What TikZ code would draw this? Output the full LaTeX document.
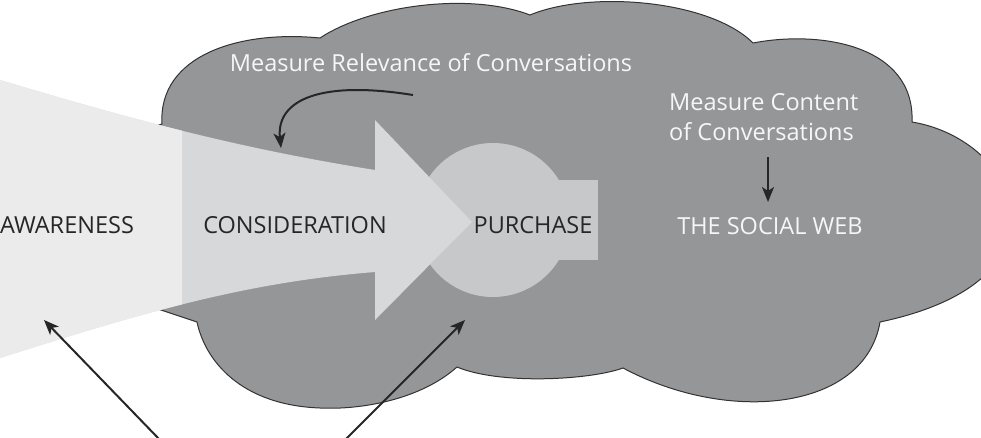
\documentclass[tikz,border=0pt]{standalone}
\usepackage{fontspec}
\setmainfont{Open Sans}
\usetikzlibrary{arrows.meta}
\definecolor{cloudgray}{HTML}{959698}
\definecolor{outline}{HTML}{333333}
\definecolor{arrowfill}{HTML}{D7D8DA}
\definecolor{lightfill}{HTML}{EBEBEB}
\definecolor{circfill}{HTML}{C7C8CA}
\definecolor{txtdark}{HTML}{262626}
\definecolor{txtlight}{HTML}{F6F6F6}
\definecolor{arrowcol}{HTML}{262626}
\begin{document}
\begin{tikzpicture}[x=1pt,y=-1pt,
  lbl/.style={font=\fontsize{23.5}{30}\selectfont, inner sep=0pt, anchor=base},
  darklbl/.style={lbl,text=txtdark},
  lightlbl/.style={lbl,text=txtlight},
  conn/.style={draw=arrowcol, line width=2pt, -{Stealth[length=15pt,width=12pt,inset=4pt]}}]
\useasboundingbox (0,0) rectangle (981,437);
\clip (0,0) rectangle (981,437);
\def\funnelpath{(0,80) .. controls (150,125) and (250,150) .. (375,170) -- (375,120) -- (472,222) -- (375,320) -- (375,272) .. controls (250,282) and (150,310) .. (0,358) -- cycle}
% cloud
\path[fill=cloudgray, draw=outline, line width=1pt]
  (150,128) -- (162,124)
  .. controls (158,55) and (240,30) .. (320,38)
  .. controls (370,5) and (470,-8) .. (530,15)
  .. controls (590,-10) and (710,0) .. (753,43)
  .. controls (820,30) and (915,45) .. (912,122)
  .. controls (1020,140) and (1080,280) .. (880,322)
  .. controls (865,410) and (730,425) .. (623,368)
  .. controls (590,380) and (500,385) .. (457,367)
  .. controls (420,400) and (360,410) .. (320,408)
  .. controls (240,405) and (205,360) .. (197,322)
  -- (158,309) -- (175,220) -- cycle;
% purchase shape
\fill[circfill] (493,220) circle[radius=77];
\fill[circfill] (493,180) rectangle (598,260);
% funnel / arrow
\fill[arrowfill] \funnelpath;
\begin{scope}
  \clip (0,0) rectangle (182,437);
  \fill[lightfill] \funnelpath;
\end{scope}
% labels
\node[darklbl] (aw) at (67,233) {AWARENESS};
\node[darklbl] (co) at (295,233) {CONSIDERATION};
\node[darklbl] (pu) at (533,233) {PURCHASE};
\node[lightlbl] (sw) at (770,234) {THE SOCIAL WEB};
\node[lightlbl] (mr) at (431,71) {Measure Relevance of Conversations};
\node[lightlbl, align=left, anchor=north west] (mc) at (669,93) {Measure Content\\of Conversations};
% connectors
\coordinate (r1) at (413,95);
\coordinate (r2) at (281,148);
\draw[conn] (r1) .. controls (320,80) and (276,100) .. (r2);
\coordinate (c1) at (768,157);
\coordinate (c2) at (768,202);
\draw[conn] (c1) -- (c2);
\coordinate (b1) at (160,440);
\coordinate (b1t) at (44,320);
\draw[conn] (b1) -- (b1t);
\coordinate (b2) at (345,440);
\coordinate (b2t) at (465,320);
\draw[conn] (b2) -- (b2t);
\end{tikzpicture}
\end{document}
